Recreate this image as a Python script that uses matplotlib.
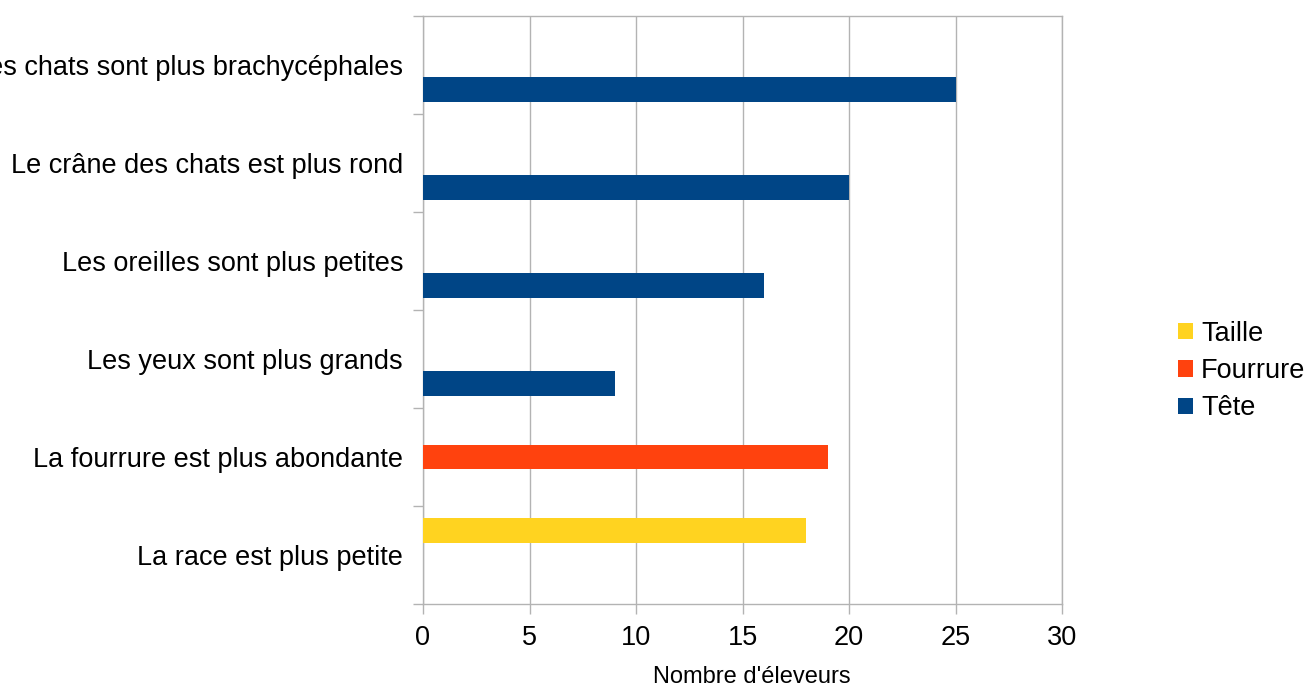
import numpy as np
import matplotlib.pyplot as plt

plt.rcParams['font.family'] = ['Liberation Sans', 'DejaVu Sans']

# =========================
# Données
# =========================
categories = [
    "La race est plus petite",
    "La fourrure est plus abondante",
    "Les yeux sont plus grands",
    "Les oreilles sont plus petites",
    "Le crâne des chats est plus rond",
    "Les chats sont plus brachycéphales",
]
series_names = ["Taille", "Fourrure", "Tête"]
taille = [18, 0, 0, 0, 0, 0]
fourrure = [0, 19, 0, 0, 0, 0]
tete = [0, 0, 9, 16, 20, 25]
colors = ["#FFD320", "#FF420E", "#004586"]
xticks = [0, 5, 10, 15, 20, 25, 30]

# =========================
# Figure
# =========================
fig = plt.figure(figsize=(13.05, 6.88), dpi=100)
ax = fig.add_axes([423 / 1305, 84 / 688, 639 / 1305, 588 / 688])

y = np.arange(len(categories))
h = 0.25
offsets = [h, 0.0, -h]
for vals, off, col, name in zip([taille, fourrure, tete], offsets, colors, series_names):
    ax.barh(y + off, vals, height=h, color=col, label=name, zorder=3)

grey = "#b3b3b3"
fs = 19.5
ax.set_xlim(0, 30)
ax.set_ylim(-0.5, len(categories) - 0.5)
ax.set_xticks(xticks)
ax.set_xticklabels([str(t) for t in xticks], fontsize=fs)
ax.set_yticks(np.arange(len(categories) + 1) - 0.5)
ax.set_yticklabels([])
ax.set_yticks(y, minor=True)
ax.set_yticklabels(categories, minor=True, fontsize=fs)
ax.tick_params(axis="y", which="minor", length=0, pad=14.4)
ax.tick_params(axis="y", which="major", length=7.2, color=grey, width=1)
ax.tick_params(axis="x", length=7.2, color=grey, width=1, pad=8)
ax.grid(axis="x", color=grey, linewidth=1, zorder=0)
for s in ax.spines.values():
    s.set_color(grey)
    s.set_linewidth(1)

ax.set_xlabel("Nombre d'éleveurs", fontsize=17)
ax.xaxis.set_label_coords(0.515, -0.105)

handles, labels = ax.get_legend_handles_labels()
fig.legend(handles, labels, loc="center left", bbox_to_anchor=(1178 / 1305, 1 - 371 / 688),
           frameon=False, fontsize=fs, handlelength=0.55, handleheight=0.55,
           handletextpad=0.3, labelspacing=0.42, borderaxespad=0, borderpad=0)

fig.savefig("out.png", dpi=100)
